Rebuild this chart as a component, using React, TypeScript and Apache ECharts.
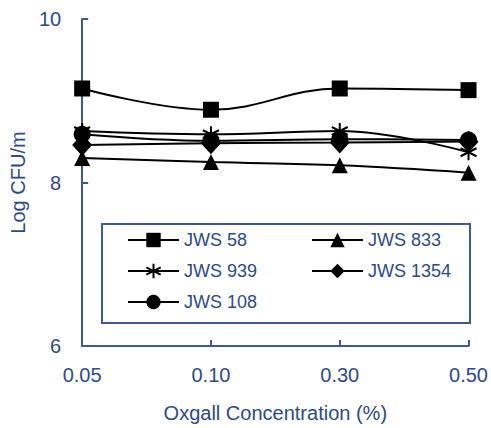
import React, { useEffect, useRef } from "react";
import * as echarts from "echarts";

const categories = ["0.05", "0.10", "0.30", "0.50"];
const jws58 = [9.15, 8.89, 9.15, 9.13];
const jws833 = [8.3, 8.25, 8.21, 8.12];
const jws939 = [8.63, 8.59, 8.63, 8.37];
const jws1354 = [8.46, 8.48, 8.49, 8.5];
const jws108 = [8.59, 8.51, 8.53, 8.52];

const BLUE = "#2d4a8a";
const AXIS = "#3a5a9a";
const FONT = "Liberation Sans, Arial, sans-serif";
const STAR = "path://M8,0 L8,16 M1,4 L15,12 M1,12 L15,4";

export default function App() {
  const ref = useRef<HTMLDivElement>(null);
  useEffect(() => {
    if (!ref.current) return;
    const chart = echarts.init(ref.current, undefined, { renderer: "svg" });
    const mk = (name: string, data: number[], symbol: string, size: any, extra: any = {}) => ({
      name,
      type: "line",
      data,
      smooth: 0.4,
      symbol,
      symbolSize: size,
      showAllSymbol: true,
      lineStyle: { color: "#000", width: 2 },
      itemStyle: { color: "#000", ...extra },
      emphasis: { disabled: true },
    });
    const legendBase = {
      orient: "vertical",
      top: 231,
      padding: 0,
      itemWidth: 51,
      itemHeight: 18,
      itemGap: 13,
      textStyle: { color: BLUE, fontSize: 18, fontFamily: FONT },
    };
    chart.setOption({
      animation: false,
      textStyle: { fontFamily: FONT },
      grid: { left: 81, right: 18, top: 19, bottom: 81, containLabel: false },
      xAxis: {
        type: "category",
        data: categories,
        boundaryGap: false,
        name: "Oxgall Concentration (%)",
        nameLocation: "middle",
        nameGap: 57,
        nameTextStyle: { color: BLUE, fontSize: 20, fontFamily: FONT },
        axisLine: { lineStyle: { color: AXIS, width: 2 } },
        axisTick: { inside: true, length: 6, lineStyle: { color: AXIS, width: 2 } },
        axisLabel: { color: BLUE, fontSize: 20, margin: 19, fontFamily: FONT },
        splitLine: { show: false },
      },
      yAxis: {
        type: "value",
        min: 6,
        max: 10,
        interval: 2,
        name: "Log CFU/m",
        nameLocation: "middle",
        nameGap: 48,
        nameTextStyle: { color: BLUE, fontSize: 20, fontFamily: FONT },
        axisLine: { show: true, lineStyle: { color: AXIS, width: 2 } },
        axisTick: { show: true, inside: true, length: 6, lineStyle: { color: AXIS, width: 2 } },
        axisLabel: { color: BLUE, fontSize: 20, margin: 21, fontFamily: FONT },
        splitLine: { show: false },
      },
      legend: [
        { ...legendBase, left: 127, data: ["JWS 58", "JWS 939", "JWS 108"] },
        { ...legendBase, left: 311, data: ["JWS 833", "JWS 1354"] },
      ],
      graphic: [
        {
          type: "rect",
          shape: { x: 102, y: 224, width: 368, height: 99 },
          style: { fill: "none", stroke: AXIS, lineWidth: 2 },
          silent: true,
        },
      ],
      series: [
        mk("JWS 58", jws58, "rect", 16),
        mk("JWS 833", jws833, "triangle", 16),
        mk("JWS 939", jws939, STAR, 16, { borderColor: "#000", borderWidth: 2 }),
        mk("JWS 1354", jws1354, "diamond", [20, 22]),
        mk("JWS 108", jws108, "circle", 17),
      ],
    });
    return () => chart.dispose();
  }, []);
  return (
    <div
      ref={ref}
      style={{ position: "fixed", left: 0, top: 0, width: 491, height: 428, background: "#fff" }}
    />
  );
}
